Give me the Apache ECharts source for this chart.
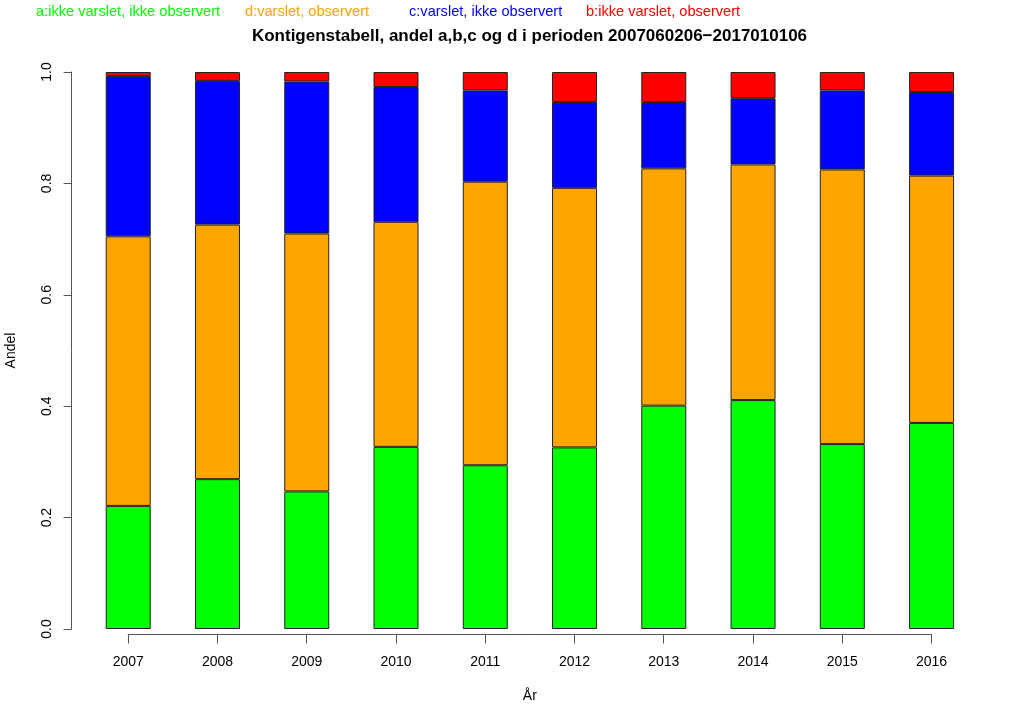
<!DOCTYPE html>
<html>
<head>
<meta charset="utf-8">
<script src="https://cdn.jsdelivr.net/npm/echarts@6/dist/echarts.min.js"></script>
<style>html,body{margin:0;padding:0;background:#fff;}#c{width:1024px;height:724px;}</style>
</head>
<body>
<div id="c"></div>
<script>
const years = ['2007','2008','2009','2010','2011','2012','2013','2014','2015','2016'];
const aIkkeVarsletIkkeObservert = [0.221,0.269,0.247,0.327,0.294,0.326,0.401,0.411,0.332,0.370];
const dVarsletObservert        = [0.484,0.457,0.463,0.404,0.509,0.466,0.426,0.423,0.493,0.444];
const cVarsletIkkeObservert    = [0.288,0.258,0.273,0.242,0.164,0.154,0.119,0.119,0.142,0.150];
const bIkkeVarsletObservert    = [0.007,0.016,0.017,0.027,0.033,0.054,0.054,0.047,0.033,0.036];
const yTicks = ['0.0','0.2','0.4','0.6','0.8','1.0'];
const seriesNames = ['a:ikke varslet, ikke observert','d:varslet, observert','c:varslet, ikke observert','b:ikke varslet, observert'];
const seriesColors = ['#00ff00','#ffa500','#0000ff','#ff0000'];
const titleText = 'Kontigenstabell, andel a,b,c og d i perioden 2007060206\u22122017010106';

const font = 'Liberation Sans, Arial, Helvetica, sans-serif';
const chart = echarts.init(document.getElementById('c'), null, {renderer:'canvas'});
const dataSets = [aIkkeVarsletIkkeObservert, dVarsletObservert, cVarsletIkkeObservert, bIkkeVarsletObservert];
const legendLeft = [36, 245, 409, 586];

const titles = seriesNames.map((n,i)=>({
  text: n, left: legendLeft[i], top: 4, padding: 0,
  textStyle: {color: seriesColors[i], fontFamily: font, fontSize: 14.6, fontWeight: 'normal'}
}));
titles.push({
  text: titleText, left: 529.5, textAlign: 'center', top: 28, padding: 0,
  textStyle: {color: '#000', fontFamily: font, fontSize: 17, fontWeight: 'bold'}
});

chart.setOption({
  animation: false,
  backgroundColor: '#fff',
  title: titles,
  grid: [
    {left: 83.6, right: 47.8, top: 72, bottom: 95, containLabel: false, outerBoundsMode: 'none'},
    {left: 128.2, right: 92.5, top: 633.5, height: 1, containLabel: false, outerBoundsMode: 'none'}
  ],
  xAxis: [
    {type: 'category', gridIndex: 0, data: years, show: false},
    {type: 'category', gridIndex: 1, data: years, boundaryGap: false,
     axisLine: {show: true, lineStyle: {color: '#555', width: 1}},
     axisTick: {show: true, length: 9, alignWithLabel: true, lineStyle: {color: '#555'}},
     axisLabel: {color: '#000', fontFamily: font, fontSize: 14, margin: 21},
     name: 'År', nameLocation: 'middle', nameGap: 55,
     nameTextStyle: {color: '#000', fontFamily: font, fontSize: 14}}
  ],
  yAxis: [
    {type: 'value', gridIndex: 0, min: 0, max: 1, interval: 0.2, offset: 12,
     axisLine: {show: true, lineStyle: {color: '#555', width: 1}},
     axisTick: {show: true, length: 8, lineStyle: {color: '#555'}},
     splitLine: {show: false},
     axisLabel: {color: '#000', fontFamily: font, fontSize: 14, rotate: 90, margin: 17,
       formatter: (v)=> yTicks[Math.round(v/0.2)]},
     name: 'Andel', nameLocation: 'middle', nameRotate: 90, nameGap: 53,
     nameTextStyle: {color: '#000', fontFamily: font, fontSize: 14}},
    {type: 'value', gridIndex: 1, show: false}
  ],
  series: dataSets.map((d,i)=>({
    name: seriesNames[i], type: 'bar', stack: 'total', xAxisIndex: 0, yAxisIndex: 0,
    data: d, barWidth: 45,
    itemStyle: {color: seriesColors[i], borderColor: '#222', borderWidth: 1}
  }))
});
</script>
</body>
</html>
